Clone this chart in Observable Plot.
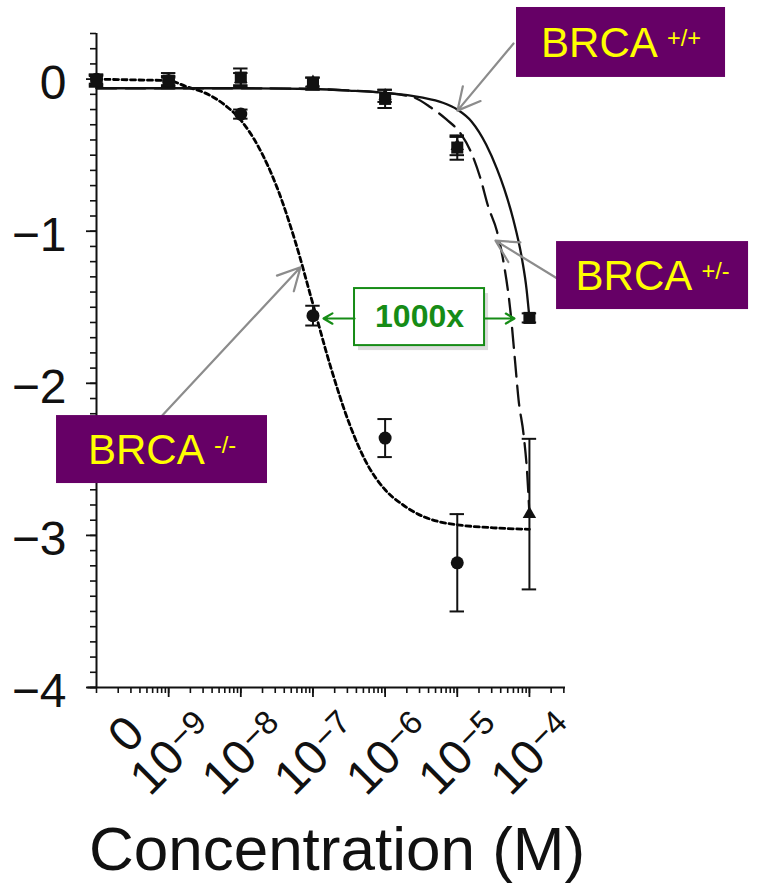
<!DOCTYPE html>
<html>
<head>
<meta charset="utf-8">
<script src="https://cdn.jsdelivr.net/npm/d3@7"></script>
<script src="https://cdn.jsdelivr.net/npm/@observablehq/plot@0.6"></script>
<style>
  html, body { margin: 0; padding: 0; background: #fff; }
  #chart svg { display: block; }
</style>
</head>
<body>
<div id="chart"></div>
<script>
// ---------- DATA ----------
// concentrations (the "0" concentration is drawn at the 10^-10 position)
const concPositions = [1e-10, 1e-9, 1e-8, 1e-7, 1e-6, 1e-5, 1e-4];
const xTickValues = [1e-9, 1e-8, 1e-7, 1e-6, 1e-5, 1e-4];
const xTickLabels = ["10^−9", "10^−8", "10^−7", "10^−6", "10^−5", "10^−4"];
const zeroTickValue = 1e-10;
const zeroTickLabel = "0";
const yTickValues = [0, -1, -2, -3, -4];
const yTickLabels = ["0", "−1", "−2", "−3", "−4"];
const yMinorTicks = d3.range(-40, 4).map(i => i / 10);
const xAxisLabel = "Concentration (M)";

// BRCA +/+ : squares, solid fit
const wtMean = [-0.01, -0.01, 0.01, -0.03, -0.13, -0.45, -1.57];
const wtErr  = [0.04, 0.05, 0.06, 0.04, 0.06, 0.08, 0.03];
// BRCA +/- : triangles, long-dash fit
const hetMean = [-0.01, -0.02, 0.0, -0.02, -0.11, -0.44, -2.86];
const hetErr  = [0.03, 0.03, 0.04, 0.03, 0.04, 0.06, 0.495];
// BRCA -/- : circles, short-dash fit
const nullConc = [1e-10, 1e-9, 1e-8, 1e-7, 1e-6, 1e-5];
const nullMean = [0.0, -0.01, -0.23, -1.555, -2.36, -3.18];
const nullErr  = [0.03, 0.03, 0.03, 0.065, 0.125, 0.32];

// fitted curves: log10(concentration) and response
const wtCurveLog = [-10, -9, -8, -7, -6.5, -6, -5.5, -5.2, -5, -4.8, -4.6, -4.45, -4.35, -4.22, -4.1, -4.04, -4];
const wtCurveVal = [-0.06, -0.06, -0.06, -0.065, -0.075, -0.09, -0.12, -0.155, -0.2, -0.28, -0.43, -0.59, -0.72, -0.93, -1.19, -1.38, -1.57];
const hetCurveLog = [-10, -9, -8, -7, -6.5, -6, -5.75, -5.6, -5.37, -5.15, -4.95, -4.8, -4.68, -4.57, -4.45, -4.36, -4.26, -4.2, -4.15, -4.08, -4.03, -4];
const hetCurveVal = [-0.06, -0.06, -0.06, -0.065, -0.075, -0.09, -0.105, -0.12, -0.185, -0.265, -0.36, -0.49, -0.65, -0.84, -1.0, -1.2, -1.54, -1.85, -2.11, -2.34, -2.6, -2.86];
const nullCurveLog = [-10, -9.5, -9, -8.75, -8.5, -8.25, -8, -7.75, -7.5, -7.25, -7, -6.75, -6.5, -6.25, -6, -5.75, -5.5, -5.25, -5, -4.5, -4];
const nullCurveVal = [0.0, -0.005, -0.01, -0.05, -0.09, -0.16, -0.27, -0.45, -0.71, -1.06, -1.48, -1.90, -2.26, -2.53, -2.70, -2.80, -2.87, -2.91, -2.93, -2.95, -2.96];

// annotation boxes (log10 concentration / response extents)
const boxNames = ["BRCA^+/+", "BRCA^+/-", "BRCA^-/-"];
const boxLog1 = [-4.179, -3.624, -10.554];
const boxLog2 = [-1.282, -0.963, -7.630];
const boxVal1 = [0.471, -1.068, -2.212];
const boxVal2 = [0.011, -1.515, -2.659];
// grey pointer arrows: from box edge to curve
const arrowLog1 = [-4.220, -3.569, -9.089];
const arrowVal1 = [0.234, -1.324, -2.212];
const arrowLog2 = [-4.997, -4.470, -7.173];
const arrowVal2 = [-0.207, -1.062, -1.237];
// "1000x" shift box
const foldLabel = "1000x";
const foldLog = [-6.424, -4.622];
const foldVal = [-1.377, -1.752];
const foldArrowTips = [-6.854, -4.207];
const foldArrowVal = -1.574;

// ---------- shaping ----------
const series = (conc, mean, err) => conc.map((c, i) => ({conc: c, mean: mean[i], err: err[i]}));
const wt = series(concPositions, wtMean, wtErr);
const het = series(concPositions, hetMean, hetErr);
const nul = series(nullConc, nullMean, nullErr);
const curve = (lg, val) => lg.map((e, i) => ({conc: 10 ** e, value: val[i]}));
const wtCurve = curve(wtCurveLog, wtCurveVal);
const hetCurve = curve(hetCurveLog, hetCurveVal);
const nullCurve = curve(nullCurveLog, nullCurveVal);
const xTicks = xTickValues.map((v, i) => ({value: v, label: xTickLabels[i]}));
const yLabelOf = new Map(yTickValues.map((v, i) => [v, yTickLabels[i]]));
const boxes = boxNames.map((n, i) => ({
  name: n, x1: 10 ** boxLog1[i], x2: 10 ** boxLog2[i], y1: boxVal1[i], y2: boxVal2[i],
  cx: 10 ** ((boxLog1[i] + boxLog2[i]) / 2), cy: (boxVal1[i] + boxVal2[i]) / 2
}));
const arrows = arrowLog1.map((e, i) => ({x1: 10 ** e, y1: arrowVal1[i], x2: 10 ** arrowLog2[i], y2: arrowVal2[i]}));
const fold = {x1: 10 ** foldLog[0], x2: 10 ** foldLog[1], y1: foldVal[0], y2: foldVal[1],
  cx: 10 ** ((foldLog[0] + foldLog[1]) / 2), cy: (foldVal[0] + foldVal[1]) / 2};
const foldArrows = [
  {x1: fold.x1, x2: 10 ** foldArrowTips[0], y: foldArrowVal},
  {x1: fold.x2, x2: 10 ** foldArrowTips[1], y: foldArrowVal}
];

const ink = "#111";
const capW = 10 ** 0.1;
const errorMarks = (data) => [
  Plot.ruleX(data, {x: "conc", y1: d => d.mean - d.err, y2: d => d.mean + d.err, stroke: ink, strokeWidth: 2}),
  Plot.ruleY(data, {y: d => d.mean + d.err, x1: d => d.conc / capW, x2: d => d.conc * capW, stroke: ink, strokeWidth: 2}),
  Plot.ruleY(data, {y: d => d.mean - d.err, x1: d => d.conc / capW, x2: d => d.conc * capW, stroke: ink, strokeWidth: 2})
];
const green = "#168c16";

const chart = Plot.plot({
  width: 763,
  height: 885,
  marginLeft: 96,
  marginRight: 198,
  marginTop: 33,
  marginBottom: 198,
  x: {type: "log", domain: [1e-10, 10 ** -3.5]},
  y: {domain: [-4, 0.3]},
  style: {fontFamily: "'Liberation Sans', Arial, Helvetica, sans-serif", background: "#fff", color: ink},
  marks: [
    // axes
    Plot.axisX({ticks: 20, tickSize: 6, text: null, strokeWidth: 1.6, stroke: ink}),
    Plot.axisX({ticks: xTickValues, tickSize: 10, text: null, strokeWidth: 1.8, stroke: ink}),
    Plot.axisY({ticks: yMinorTicks, tickSize: 6, text: null, strokeWidth: 1.6, stroke: ink}),
    Plot.axisY({ticks: yTickValues, tickSize: 10, text: null, strokeWidth: 1.8, stroke: ink}),
    Plot.axisY({ticks: yTickValues, tickSize: 0, tickPadding: 30, fontSize: 48, dy: 4, fill: ink,
      tickFormat: d => yLabelOf.get(d)}),
    Plot.ruleY([-4], {x1: 10 ** -10.12, x2: 10 ** -3.5, stroke: ink, strokeWidth: 2}),
    Plot.ruleX([1e-10], {y1: -4, y2: 0.3, stroke: ink, strokeWidth: 2}),
    Plot.text(xTicks, {x: "value", text: "label", frameAnchor: "bottom", dx: 3, dy: 66, rotate: -45,
      fontSize: 48, textAnchor: "middle", lineAnchor: "middle", fill: ink}),
    Plot.text([zeroTickLabel], {x: () => zeroTickValue, text: d => d, frameAnchor: "bottom", dx: 30, dy: 47, rotate: -45,
      fontSize: 48, textAnchor: "middle", lineAnchor: "middle", fill: ink}),
    Plot.text([xAxisLabel], {text: d => d, frameAnchor: "bottom", dx: 6, dy: 163, fontSize: 62,
      textAnchor: "middle", lineAnchor: "middle", fill: ink}),

    // fitted curves
    Plot.line(nullCurve, {x: "conc", y: "value", curve: "monotone-x", stroke: "#000", strokeWidth: 2.8, strokeDasharray: "5,3.5"}),
    Plot.line(hetCurve, {x: "conc", y: "value", curve: "monotone-x", stroke: ink, strokeWidth: 2.3, strokeDasharray: "20,9"}),
    Plot.line(wtCurve, {x: "conc", y: "value", curve: "monotone-x", stroke: ink, strokeWidth: 2.3}),

    // error bars and markers
    ...errorMarks(het),
    ...errorMarks(nul),
    ...errorMarks(wt),
    Plot.dot(het, {x: "conc", y: "mean", symbol: "triangle", r: 5, fill: ink, stroke: "none"}),
    Plot.dot(nul, {x: "conc", y: "mean", symbol: "circle", r: 6.5, fill: ink, stroke: "none"}),
    Plot.dot(wt, {x: "conc", y: "mean", symbol: "square", r: 6.8, fill: ink, stroke: "none"}),

    // annotations
    Plot.arrow(arrows, {x1: "x1", y1: "y1", x2: "x2", y2: "y2", stroke: "#8c8c8c", strokeWidth: 2.2,
      headLength: 17, headAngle: 55, bend: 0}),
    Plot.rect(boxes, {x1: "x1", x2: "x2", y1: "y1", y2: "y2", fill: "#660066"}),
    Plot.text(boxes, {x: "cx", y: "cy", text: "name", fill: "#ffff00", fontSize: 42,
      textAnchor: "middle", lineAnchor: "middle", dy: 1}),
    Plot.rect([fold], {x1: "x1", x2: "x2", y1: "y1", y2: "y2", fill: "#9a9a9a", fillOpacity: 0.35, dx: 4, dy: 5}),
    Plot.rect([fold], {x1: "x1", x2: "x2", y1: "y1", y2: "y2", fill: "#fff", stroke: green, strokeWidth: 2}),
    Plot.text([fold], {x: "cx", y: "cy", text: () => foldLabel, fill: green, fontSize: 32, fontWeight: "bold",
      textAnchor: "middle", lineAnchor: "middle"}),
    Plot.arrow(foldArrows, {x1: "x1", y1: "y", x2: "x2", y2: "y", stroke: green, strokeWidth: 2.2,
      headLength: 15, headAngle: 60, bend: 0})
  ]
});

// superscripts: "base^sup" texts become two tspans
d3.select(chart).selectAll("text").each(function () {
  const t = this.textContent;
  if (!t.includes("^")) return;
  const [base, sup] = t.split("^");
  const g = this.parentNode;
  const fs = parseFloat((g && g.getAttribute("font-size")) || this.getAttribute("font-size") || 40);
  const isBox = base.startsWith("BRCA");
  const sel = d3.select(this);
  sel.text(null);
  sel.append("tspan").text(base);
  sel.append("tspan")
    .attr("font-size", (isBox ? 0.56 : 0.69) * fs)
    .attr("dx", isBox ? 0.22 * fs : 0.04 * fs)
    .attr("dy", -(isBox ? 0.26 : 0.21) * fs)
    .text(sup);
});

document.getElementById("chart").appendChild(chart);
</script>
</body>
</html>
